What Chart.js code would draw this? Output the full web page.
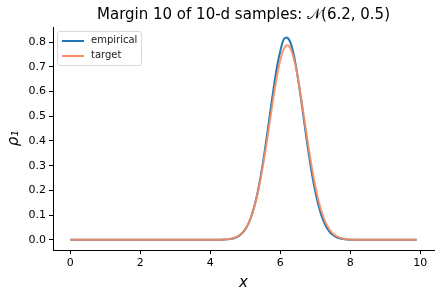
<!DOCTYPE html>
<html>
<head>
<meta charset="utf-8">
<script src="https://cdn.jsdelivr.net/npm/chart.js@4.4.0/dist/chart.umd.min.js"></script>
<style>
  html, body { margin: 0; padding: 0; background: #fff; }
  #wrap { position: relative; width: 440px; height: 296px; }
  #legend {
    position: absolute; left: 57px; top: 31px; width: 83px; height: 33px;
    border: 1px solid #d9d9d9; border-radius: 3px; background: rgba(255,255,255,0.8);
    font-family: "DejaVu Sans", sans-serif; font-size: 10px; color: #222;
  }
  .row { position: absolute; left: 4px; height: 12px; }
  .row span.sw { position: absolute; left: 0; top: 5px; width: 22px; height: 2px; }
  .row span.lb { position: absolute; left: 29px; top: -1px; white-space: nowrap; }
</style>
</head>
<body>
<div id="wrap">
  <canvas id="chart" width="440" height="296"></canvas>
  <div id="legend">
    <div class="row" style="top:3px"><span class="sw" style="background:#1f77b4"></span><span class="lb">empirical</span></div>
    <div class="row" style="top:18px"><span class="sw" style="background:#fc8d62"></span><span class="lb">target</span></div>
  </div>
</div>
<script>
// x positions of the samples (flat tails kept sparse)
const xs = [0, 1, 2, 3, 4.0, 4.1, 4.2, 4.3, 4.4, 4.5, 4.6, 4.7, 4.8, 4.9,
    5.0, 5.1, 5.2, 5.3, 5.4, 5.5, 5.6, 5.7, 5.8, 5.9,
    6.0, 6.1, 6.2, 6.3, 6.4, 6.5, 6.6, 6.7, 6.8, 6.9,
    7.0, 7.1, 7.2, 7.3, 7.4, 7.5, 7.6, 7.7, 7.8, 7.9,
    8.0, 8.1, 8.2, 8.3, 8.4, 9, 9.9];

// empirical density
const empirical = [0, 0, 0, 0, 0.0000, 0.0001, 0.0002, 0.0004, 0.0010, 0.0020, 0.0041, 0.0078, 0.0143, 0.0253,
    0.0425, 0.0687, 0.1066, 0.158, 0.225, 0.307, 0.401, 0.502, 0.603, 0.694,
    0.763, 0.811, 0.818, 0.795, 0.740, 0.659, 0.564, 0.461, 0.362, 0.272,
    0.196, 0.136, 0.090, 0.057, 0.0347, 0.0203, 0.0112, 0.0061, 0.0031, 0.0015,
    0.0007, 0.0003, 0.0001, 0.0000, 0, 0, 0];

// target density N(6.2, 0.5) as drawn
const target = [0, 0, 0, 0, 0.0001, 0.0002, 0.0003, 0.0006, 0.0012, 0.0025, 0.0047, 0.0088, 0.0156, 0.0267,
    0.0442, 0.0700, 0.1064, 0.1556, 0.2187, 0.2951, 0.3827, 0.4772, 0.5711, 0.6568,
    0.7262, 0.7713, 0.7868, 0.7713, 0.7262, 0.6568, 0.5711, 0.4772, 0.3827, 0.2951,
    0.2187, 0.1556, 0.1064, 0.0700, 0.0442, 0.0267, 0.0156, 0.0088, 0.0047, 0.0025,
    0.0012, 0.0006, 0.0003, 0.0002, 0.0001, 0, 0];

const xTicks = [0, 2, 4, 6, 8, 10];
const yTicks = [0, 0.1, 0.2, 0.3, 0.4, 0.5, 0.6, 0.7, 0.8];

const titleText = 'Margin 10 of 10-d samples: \u{1D4A9}(6.2, 0.5)';
const fontFam = '"DejaVu Sans", sans-serif';

// title centred over the plot area
const titlePlugin = {
    id: 'plotTitle',
    afterDraw(chart) {
        const ctx = chart.ctx;
        const a = chart.chartArea;
        ctx.save();
        ctx.font = '15px ' + fontFam;
        ctx.fillStyle = '#000';
        ctx.textAlign = 'center';
        ctx.textBaseline = 'middle';
        ctx.fillText(titleText, (a.left + a.right) / 2, 15);
        ctx.restore();
    }
};

const toPoints = ys => xs.map((x, i) => ({ x: x, y: ys[i] }));

const tickStyle = { color: '#000', font: { family: fontFam, size: 11 } };

new Chart(document.getElementById('chart').getContext('2d'), {
    type: 'line',
    data: {
        datasets: [{
            label: 'empirical',
            data: toPoints(empirical),
            borderColor: '#1f77b4',
            borderWidth: 2,
            pointRadius: 0,
            tension: 0.3,
            order: 1
        }, {
            label: 'target',
            data: toPoints(target),
            borderColor: 'rgba(252, 141, 98, 0.9)',
            borderWidth: 2,
            pointRadius: 0,
            tension: 0.3,
            order: 0
        }]
    },
    options: {
        responsive: false,
        animation: false,
        layout: { padding: { top: 27, right: 6, left: 0, bottom: 0 } },
        plugins: { legend: { display: false }, tooltip: { enabled: false } },
        scales: {
            x: {
                type: 'linear',
                min: -0.495,
                max: 10.395,
                afterBuildTicks: s => { s.ticks = xTicks.map(v => ({ value: v })); },
                afterFit: s => { s.height = 46; },
                ticks: Object.assign({ padding: 3, maxRotation: 0, callback: v => String(v) }, tickStyle),
                grid: { display: true, drawOnChartArea: false, drawTicks: true, tickLength: 4, color: '#000' },
                border: { display: true, color: '#000', width: 1 },
                title: { display: true, text: 'x', color: '#000', padding: { top: 2 },
                    font: { family: fontFam, size: 15, style: 'italic' } }
            },
            y: {
                min: -0.041,
                max: 0.861,
                afterBuildTicks: s => { s.ticks = yTicks.map(v => ({ value: v })); },
                afterFit: s => { s.width = 53; },
                ticks: Object.assign({ padding: 3, callback: v => v.toFixed(1) }, tickStyle),
                grid: { display: true, drawOnChartArea: false, drawTicks: true, tickLength: 4, color: '#000' },
                border: { display: true, color: '#000', width: 1 },
                title: { display: true, text: 'ρ\u2081', color: '#000', padding: { top: 5, bottom: 0 },
                    font: { family: fontFam, size: 15, style: 'italic' } }
            }
        }
    },
    plugins: [titlePlugin]
});
</script>
</body>
</html>
